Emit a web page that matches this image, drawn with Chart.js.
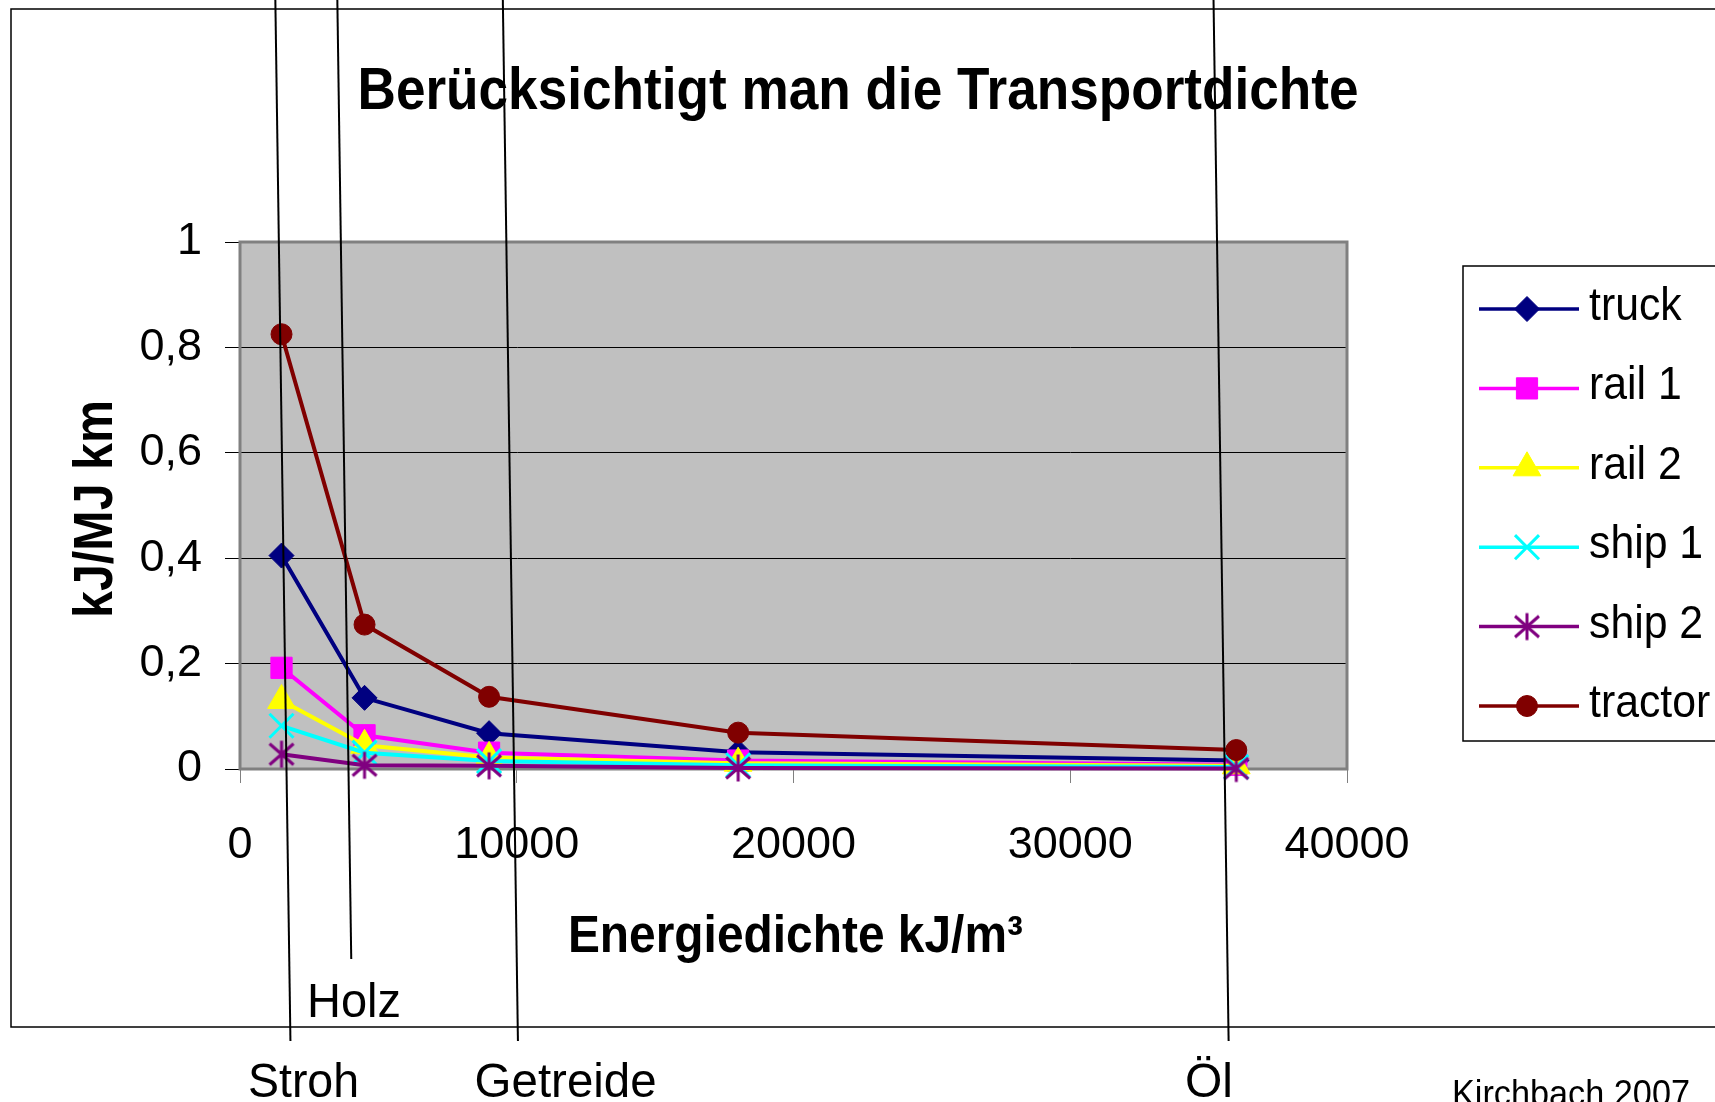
<!DOCTYPE html>
<html>
<head>
<meta charset="utf-8">
<script src="https://cdn.jsdelivr.net/npm/chart.js@4.4.1/dist/chart.umd.min.js"></script>
<style>
    html, body { margin: 0; padding: 0; background: #fff; }
    canvas { display: block; }
</style>
</head>
<body>
<canvas id="chart" width="1715" height="1102"></canvas>
<script>
// Energiedichte kJ/m³ of the transported goods
const densities = [1500, 4500, 9000, 18000, 36000];

// kJ per MJ per km, one array per carrier
const truck   = [0.405, 0.135, 0.068, 0.032, 0.016];
const rail1   = [0.192, 0.064, 0.031, 0.016, 0.008];
const rail2   = [0.130, 0.045, 0.022, 0.011, 0.006];
const ship1   = [0.082, 0.031, 0.015, 0.007, 0.004];
const ship2   = [0.028, 0.007, 0.006, 0.002, 0.001];
const tractor = [0.825, 0.274, 0.137, 0.069, 0.036];

const seriesNames = ['truck', 'rail 1', 'rail 2', 'ship 1', 'ship 2', 'tractor'];
const seriesValues = [truck, rail1, rail2, ship1, ship2, tractor];

const xTicks = [0, 10000, 20000, 30000, 40000];
const yTicks = [0, 0.2, 0.4, 0.6, 0.8, 1];

// hand drawn fuel markers: where each line crosses y = 0
const fuelNames = ['Stroh', 'Holz', 'Getreide', 'Öl'];
const fuelX = [1680, 3920, 9900, 35580];

// --- styling / layout (not data) ---
const FONT = '"Liberation Sans", Arial, sans-serif';
const colors = ['#000080', '#FF00FF', '#FFFF00', '#00FFFF', '#800080', '#800000'];

// Excel style asterisk (vertical + X), Chart.js star has 8 arms
const asterisk = document.createElement('canvas');
asterisk.width = 30; asterisk.height = 30;
(() => {
    const a = asterisk.getContext('2d');
    a.strokeStyle = '#800080';
    a.lineWidth = 3;
    a.beginPath();
    a.moveTo(15, 1.5); a.lineTo(15, 28.5);
    a.moveTo(3, 4.5); a.lineTo(27, 25.5);
    a.moveTo(27, 4.5); a.lineTo(3, 25.5);
    a.stroke();
})();

const markers = [
    { style: 'rectRot', radius: 12.5, border: 1 },
    { style: 'rect', radius: 15, border: 1 },
    { style: 'triangle', radius: 16, border: 1 },
    { style: 'crossRot', radius: 17, border: 3 },
    { style: asterisk, radius: 13, border: 1 },
    { style: 'circle', radius: 10.5, border: 1 }
];

const lineEnds = [1041, 959, 1041, 1041];
const labelPos = [[303.5, 1097, 111], [354, 1017, 94], [565.6, 1097, 182], [1209, 1097, 48]];
const SLANT = 0.0145;

// text squeezed to a given width (the original uses a narrow font)
const drawText = (ctx, text, x, y, font, width, opts = {}) => {
    ctx.save();
    ctx.font = font;
    const w = ctx.measureText(text).width;
    ctx.translate(x, y);
    if (opts.angle) ctx.rotate(opts.angle);
    ctx.scale(width ? width / w : (opts.sx || 1), 1);
    ctx.textAlign = opts.align || 'center';
    ctx.textBaseline = 'alphabetic';
    ctx.fillStyle = '#000';
    ctx.fillText(text, 0, 0);
    ctx.restore();
};

const decorPlugin = {
    id: 'decor',
    beforeDraw(chart) {
        const { ctx, chartArea: a } = chart;
        ctx.save();
        ctx.fillStyle = '#fff';
        ctx.fillRect(0, 0, chart.width, chart.height);
        ctx.fillStyle = '#C0C0C0';
        ctx.fillRect(a.left, a.top, a.right - a.left, a.bottom - a.top);
        // outer chart frame (runs off the right edge)
        ctx.strokeStyle = '#000';
        ctx.lineWidth = 1.5;
        ctx.strokeRect(11, 9, 1760, 1018);
        ctx.restore();
    },
    beforeDatasetsDraw(chart) {
        const { ctx, chartArea: a } = chart;
        ctx.save();
        ctx.strokeStyle = '#808080';
        ctx.lineWidth = 3;
        ctx.strokeRect(a.left, a.top, a.right - a.left, a.bottom - a.top);
        ctx.restore();
    },
    afterDraw(chart) {
        const ctx = chart.ctx;

        // titles
        drawText(ctx, 'Berücksichtigt man die Transportdichte', 858, 108.5, `bold 60px ${FONT}`, 1001);
        drawText(ctx, 'Energiedichte kJ/m³', 795.4, 951.7, `bold 51px ${FONT}`, 455);
        drawText(ctx, 'kJ/MJ km', 111.7, 509, `bold 55px ${FONT}`, 218, { angle: -Math.PI / 2 });

        // legend
        ctx.save();
        ctx.strokeStyle = '#000';
        ctx.lineWidth = 1.5;
        ctx.strokeRect(1463, 266, 320, 475);
        chart.data.datasets.forEach((ds, i) => {
            const y = 309 + i * 79.4;
            ctx.strokeStyle = ds.borderColor;
            ctx.lineWidth = 3.5;
            ctx.beginPath();
            ctx.moveTo(1479, y);
            ctx.lineTo(1579, y);
            ctx.stroke();
            ctx.fillStyle = ds.pointBackgroundColor;
            ctx.lineWidth = ds.pointBorderWidth;
            Chart.helpers.drawPoint(ctx, {
                pointStyle: ds.pointStyle, radius: ds.pointRadius,
                borderWidth: ds.pointBorderWidth, rotation: 0
            }, 1527, y);
            drawText(ctx, ds.label, 1589, y + 11, `46px ${FONT}`, 0, { align: 'left', sx: 0.93 });
        });
        ctx.restore();

        // fuel lines across the whole picture
        const xs = chart.scales.x;
        const y0 = chart.scales.y.getPixelForValue(0);
        ctx.save();
        ctx.strokeStyle = '#000';
        ctx.lineWidth = 2;
        fuelX.forEach((v, i) => {
            const px = xs.getPixelForValue(v);
            ctx.beginPath();
            ctx.moveTo(px - y0 * SLANT, 0);
            ctx.lineTo(px + (lineEnds[i] - y0) * SLANT, lineEnds[i]);
            ctx.stroke();
        });
        ctx.restore();
        fuelNames.forEach((n, i) => {
            const [lx, ly, lw] = labelPos[i];
            drawText(ctx, n, lx, ly, `49px ${FONT}`, lw);
        });
        drawText(ctx, 'Kirchbach 2007', 1571, 1106, `36px ${FONT}`, 238);
    }
};

const datasets = seriesNames.map((name, i) => ({
    label: name,
    data: densities.map((x, j) => ({ x, y: seriesValues[i][j] })),
    borderColor: colors[i],
    backgroundColor: colors[i],
    pointBackgroundColor: colors[i],
    pointBorderColor: colors[i],
    borderWidth: 4,
    pointStyle: markers[i].style,
    pointRadius: markers[i].radius,
    pointBorderWidth: markers[i].border,
    tension: 0,
    clip: false,
    order: seriesNames.length - i
}));

new Chart(document.getElementById('chart'), {
    type: 'line',
    data: { datasets },
    options: {
        responsive: false,
        animation: false,
        devicePixelRatio: 1,
        layout: { padding: { left: 0, right: 368, top: 242, bottom: 0 } },
        plugins: {
            legend: { display: false },
            title: { display: false },
            tooltip: { enabled: false }
        },
        scales: {
            x: {
                type: 'linear', min: 0, max: 40000,
                afterFit: s => { s.height = 333; },
                afterBuildTicks: s => { s.ticks = xTicks.map(v => ({ value: v })); },
                grid: { drawOnChartArea: false, drawTicks: true, tickLength: 14, color: '#808080' },
                border: { display: false },
                ticks: {
                    font: { family: FONT, size: 45 }, color: '#000', padding: 36, maxRotation: 0,
                    callback: v => String(v)
                }
            },
            y: {
                type: 'linear', min: 0, max: 1,
                afterFit: s => { s.width = 240; },
                afterBuildTicks: s => { s.ticks = yTicks.map(v => ({ value: v })); },
                grid: { color: '#000', lineWidth: 1, tickLength: 15 },
                border: { display: true, color: '#000', width: 1 },
                ticks: {
                    font: { family: FONT, size: 45 }, color: '#000', padding: 23,
                    callback: v => String(v).replace('.', ',')
                }
            }
        }
    },
    plugins: [decorPlugin]
});
</script>
</body>
</html>
